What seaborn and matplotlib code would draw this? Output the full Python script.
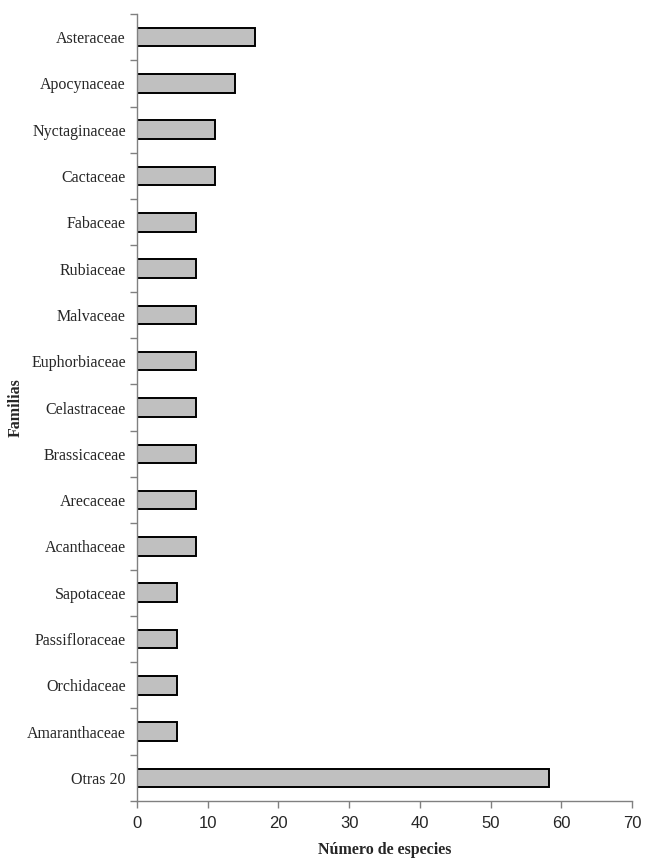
import numpy as np
import pandas as pd
import matplotlib
matplotlib.use('Agg')
import matplotlib.pyplot as plt
import seaborn as sns

# Data (percent of species per family)
familias = ['Asteraceae', 'Apocynaceae', 'Nyctaginaceae', 'Cactaceae', 'Fabaceae',
            'Rubiaceae', 'Malvaceae', 'Euphorbiaceae', 'Celastraceae', 'Brassicaceae',
            'Arecaceae', 'Acanthaceae', 'Sapotaceae', 'Passifloraceae', 'Orchidaceae',
            'Amaranthaceae', 'Otras 20']
especies = [16.7, 13.9, 11.1, 11.1, 8.3, 8.3, 8.3, 8.3, 8.3, 8.3,
            8.3, 8.3, 5.6, 5.6, 5.6, 5.6, 58.3]
x_ticks = [0, 10, 20, 30, 40, 50, 60, 70]

df = pd.DataFrame({'Familia': familias, 'Especies': especies})

sns.set_style('white')
plt.rcParams['font.family'] = ['Liberation Serif', 'DejaVu Serif']

fig = plt.figure(figsize=(6.51, 8.58), dpi=100)
ax = fig.add_axes([0.2104, 0.0664, 0.7604, 0.9173])

sns.barplot(data=df, x='Especies', y='Familia', orient='h', color='#c0c0c0',
            edgecolor='black', linewidth=1.4, width=0.4, saturation=1, ax=ax)

ax.set_xlim(0, 70)
ax.set_ylim(len(familias) - 0.5, -0.5)
ax.set_xticks(x_ticks)
ax.set_xticklabels([str(t) for t in x_ticks], family='Liberation Sans', fontsize=12)
ax.set_yticks(range(len(familias)))
ax.set_yticklabels(familias, fontsize=11.5)
ax.set_yticks(np.arange(-0.5, len(familias), 1), minor=True)
ax.tick_params(axis='y', which='major', left=True, length=0, pad=8)
ax.tick_params(axis='y', which='minor', left=True, length=5, width=1,
               color='#808080', direction='out')
ax.tick_params(axis='x', which='major', bottom=True, length=5, width=1,
               color='#808080', direction='out', pad=6)

for s in ['top', 'right']:
    ax.spines[s].set_visible(False)
for s in ['left', 'bottom']:
    ax.spines[s].set_color('#808080')
    ax.spines[s].set_linewidth(1)

ax.set_xlabel('Número de especies', fontsize=11.5, fontweight='bold', labelpad=8)
ax.set_ylabel('Familias', fontsize=11.5, fontweight='bold', labelpad=2)

fig.savefig('out.png', dpi=100)
plt.close(fig)
